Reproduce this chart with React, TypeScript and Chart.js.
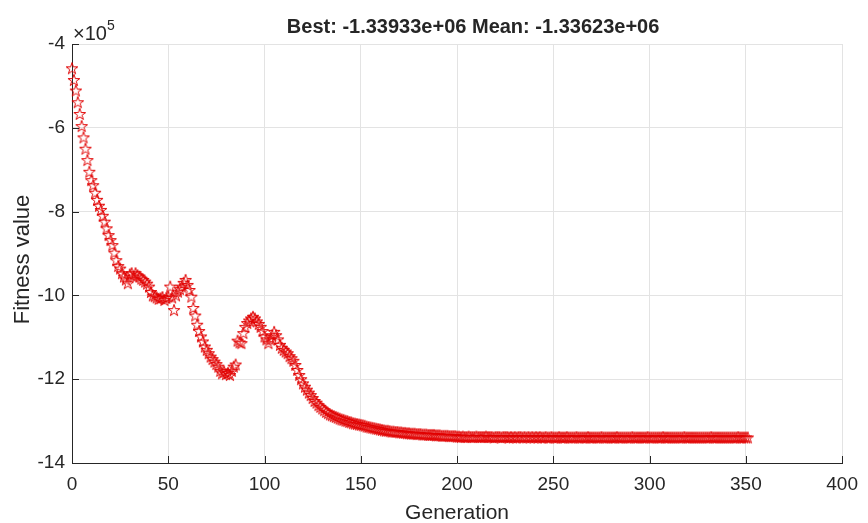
import React, { useEffect, useRef } from "react";
import { Chart, registerables } from "chart.js";

Chart.register(...registerables);

const TITLE = "Best: -1.33933e+06 Mean: -1.33623e+06";
const X_LABEL = "Generation";
const Y_LABEL = "Fitness value";
const Y_EXPONENT = "5";
const X_TICKS = [0, 50, 100, 150, 200, 250, 300, 350, 400];
const Y_TICKS = [-14, -12, -10, -8, -6, -4];

// Fitness values (units of 10^5), one per generation
const EARLY = [
  -4.58, -4.86, -5.11, -5.39, -5.67, -5.96, -6.23, -6.5, -6.77, -7.05,
  -7.25, -7.37, -7.55, -7.72, -7.86, -7.96, -8.1, -8.24, -8.4, -8.56,
  -8.68, -8.8, -8.98, -9.16, -9.3, -9.36, -9.47, -9.55, -9.62, -9.71,
  -9.5, -9.47, -9.55, -9.47, -9.52, -9.55, -9.6, -9.63, -9.67, -9.72,
  -9.79, -9.92, -10.0, -10.02, -10.05, -10.08, -10.07, -10.04, -10.11, -10.06,
];
const MIDDLE = [
  -10.03, -9.79, -10.05, -10.35, -10.0, -9.91, -9.85, -9.79, -9.7, -9.63,
  -9.75, -9.87, -10.03, -10.3, -10.48, -10.7, -10.85, -10.98, -11.1, -11.22,
  -11.3, -11.38, -11.46, -11.52, -11.58, -11.64, -11.7, -11.8, -11.86, -11.82,
  -11.88, -11.85, -11.9, -11.8, -11.7, -11.65, -11.08, -11.12, -11.14, -10.9,
  -10.75, -10.66, -10.6, -10.55, -10.51, -10.55, -10.62, -10.68, -10.75, -10.85,
  -10.98, -11.05, -11.14, -11.05, -10.95, -10.87, -10.95, -11.05, -11.18, -11.25,
  -11.3, -11.34, -11.38, -11.45, -11.5, -11.56, -11.66, -11.78, -11.9, -12.0,
];
const CONVERGE = [
  -12.1, -12.18, -12.25, -12.32, -12.38, -12.45, -12.52, -12.56, -12.62, -12.66,
  -12.7, -12.74, -12.78, -12.81, -12.84, -12.86, -12.88, -12.9, -12.92, -12.94,
  -12.96, -12.97, -12.99, -13.0, -13.02, -13.03, -13.05, -13.06, -13.07, -13.08,
  -13.09, -13.1, -13.11, -13.13, -13.14, -13.15, -13.16, -13.17, -13.18, -13.19,
  -13.2, -13.21, -13.22, -13.23, -13.23, -13.24, -13.25, -13.25, -13.26, -13.26,
  -13.27, -13.27, -13.28, -13.28, -13.29, -13.29, -13.3, -13.3, -13.3, -13.31,
  -13.31, -13.31, -13.32, -13.32, -13.32, -13.33, -13.33, -13.33, -13.33, -13.34,
  -13.34, -13.34, -13.35, -13.35, -13.35, -13.35, -13.36, -13.36, -13.36, -13.36,
];
const PLATEAU = [
  -13.37, -13.37, -13.38, -13.37, -13.38, -13.38, -13.37, -13.38, -13.38, -13.38,
  -13.37, -13.38, -13.38, -13.38, -13.38, -13.37, -13.38, -13.38, -13.38, -13.39,
  -13.38, -13.38, -13.38, -13.39, -13.38, -13.38, -13.38, -13.39, -13.38, -13.39,
  -13.38, -13.39, -13.38, -13.38, -13.39, -13.38, -13.39, -13.38, -13.39, -13.38,
  -13.39, -13.38, -13.39, -13.38, -13.39, -13.39, -13.38, -13.39, -13.39, -13.38,
  -13.39, -13.39, -13.39, -13.38, -13.39, -13.39, -13.39, -13.38, -13.39, -13.39,
  -13.39, -13.39, -13.38, -13.39, -13.39, -13.39, -13.39, -13.39, -13.38, -13.39,
  -13.39, -13.39, -13.39, -13.39, -13.39, -13.38, -13.39, -13.39, -13.39, -13.39,
  -13.39, -13.39, -13.39, -13.38, -13.39, -13.39, -13.39, -13.39, -13.39, -13.39,
  -13.39, -13.38, -13.39, -13.39, -13.39, -13.39, -13.39, -13.39, -13.39, -13.38,
  -13.39, -13.39, -13.39, -13.39, -13.39, -13.39, -13.39, -13.38, -13.39, -13.39,
  -13.39, -13.39, -13.39, -13.39, -13.39, -13.39, -13.39, -13.39, -13.38, -13.39,
  -13.39, -13.39, -13.39, -13.39, -13.39, -13.39, -13.39, -13.39, -13.39, -13.39,
  -13.39, -13.39, -13.38, -13.39, -13.39, -13.39, -13.39, -13.39, -13.39, -13.39,
  -13.39, -13.39, -13.39, -13.39, -13.39, -13.39, -13.38, -13.39, -13.39, -13.39,
  -13.39, -13.39,
];
const FITNESS = [...EARLY, ...MIDDLE, ...CONVERGE, ...PLATEAU];

const FONT = '"Liberation Sans", Arial, Helvetica, sans-serif';
const TEXT = "#262626";
const RED = "rgb(225,0,0)";

function makeStar(): HTMLCanvasElement {
  const size = 16;
  const c = document.createElement("canvas");
  c.width = size;
  c.height = size;
  const ctx = c.getContext("2d")!;
  const cx = size / 2;
  const cy = size / 2 + 0.5;
  const R = 6.2;
  const r = R * 0.382;
  ctx.beginPath();
  for (let i = 0; i < 10; i++) {
    const a = -Math.PI / 2 + (i * Math.PI) / 5;
    const rad = i % 2 === 0 ? R : r;
    const px = cx + rad * Math.cos(a);
    const py = cy + rad * Math.sin(a);
    if (i === 0) ctx.moveTo(px, py);
    else ctx.lineTo(px, py);
  }
  ctx.closePath();
  ctx.strokeStyle = RED;
  ctx.lineWidth = 1;
  ctx.stroke();
  return c;
}

const decorations = {
  id: "matlabDecor",
  afterDraw(chart: any) {
    const { ctx, chartArea, scales } = chart;
    const xs = scales.x;
    const ys = scales.y;
    ctx.save();
    // inward tick marks
    ctx.strokeStyle = TEXT;
    ctx.lineWidth = 1;
    ctx.beginPath();
    X_TICKS.forEach((v) => {
      const px = Math.round(xs.getPixelForValue(v)) + 0.5;
      ctx.moveTo(px, chartArea.bottom);
      ctx.lineTo(px, chartArea.bottom - 7);
    });
    Y_TICKS.forEach((v) => {
      const py = Math.round(ys.getPixelForValue(v)) + 0.5;
      ctx.moveTo(chartArea.left, py);
      ctx.lineTo(chartArea.left + 7, py);
    });
    ctx.stroke();

    ctx.fillStyle = TEXT;
    // title
    ctx.font = `bold 20px ${FONT}`;
    ctx.textAlign = "center";
    ctx.textBaseline = "middle";
    const cx = (chartArea.left + chartArea.right) / 2;
    ctx.fillText(TITLE, cx + 16, 27);
    // x label
    ctx.font = `21px ${FONT}`;
    ctx.fillText(X_LABEL, cx, 513);
    // y label
    ctx.save();
    ctx.translate(23, (chartArea.top + chartArea.bottom) / 2 + 6);
    ctx.rotate(-Math.PI / 2);
    ctx.font = `22px ${FONT}`;
    ctx.fillText(Y_LABEL, 0, 0);
    ctx.restore();
    // exponent
    ctx.textAlign = "left";
    ctx.textBaseline = "alphabetic";
    ctx.font = `20px ${FONT}`;
    ctx.fillText("\u00d710", chartArea.left + 1, 40);
    const w = ctx.measureText("\u00d710").width;
    ctx.font = `14px ${FONT}`;
    ctx.fillText(Y_EXPONENT, chartArea.left + 1 + w, 30);
    ctx.restore();
  },
};

export default function App() {
  const ref = useRef<HTMLCanvasElement | null>(null);
  useEffect(() => {
    document.body.style.margin = "0";
    const canvas = ref.current!;
    const star = makeStar();
    const chart = new Chart(canvas, {
      type: "scatter",
      data: {
        datasets: [
          {
            data: FITNESS.map((y, i) => ({ x: i, y })),
            pointStyle: star as any,
            pointRadius: 7,
            pointHoverRadius: 7,
            showLine: false,
            clip: false as any,
          },
        ],
      },
      options: {
        responsive: false,
        animation: false,
        devicePixelRatio: 1,
        layout: { padding: { top: 44, right: 17, left: 0, bottom: 0 } },
        plugins: {
          legend: { display: false },
          title: { display: false },
          tooltip: { enabled: false },
        },
        scales: {
          x: {
            type: "linear",
            min: 0,
            max: 400,
            afterBuildTicks: (s: any) => {
              s.ticks = X_TICKS.map((v) => ({ value: v }));
            },
            afterFit: (s: any) => {
              s.height = 60;
            },
            grid: { color: "#E3E3E3", lineWidth: 1, drawTicks: false },
            border: { display: true, color: TEXT, width: 1 },
            ticks: {
              font: { family: FONT, size: 19 },
              color: TEXT,
              padding: 10,
              maxRotation: 0,
              autoSkip: false,
              callback: (v: any) => String(v),
            },
          },
          y: {
            type: "linear",
            min: -14,
            max: -4,
            afterBuildTicks: (s: any) => {
              s.ticks = Y_TICKS.map((v) => ({ value: v }));
            },
            afterFit: (s: any) => {
              s.width = 72;
            },
            grid: { color: "#E3E3E3", lineWidth: 1, drawTicks: false },
            border: { display: true, color: TEXT, width: 1 },
            ticks: {
              font: { family: FONT, size: 19 },
              color: TEXT,
              padding: 7,
              autoSkip: false,
              callback: (v: any) => String(v),
            },
          },
        },
      },
      plugins: [decorations],
    });
    return () => chart.destroy();
  }, []);
  return (
    <canvas
      ref={ref}
      width={868}
      height={523}
      style={{ display: "block", width: 868, height: 523 }}
    />
  );
}
